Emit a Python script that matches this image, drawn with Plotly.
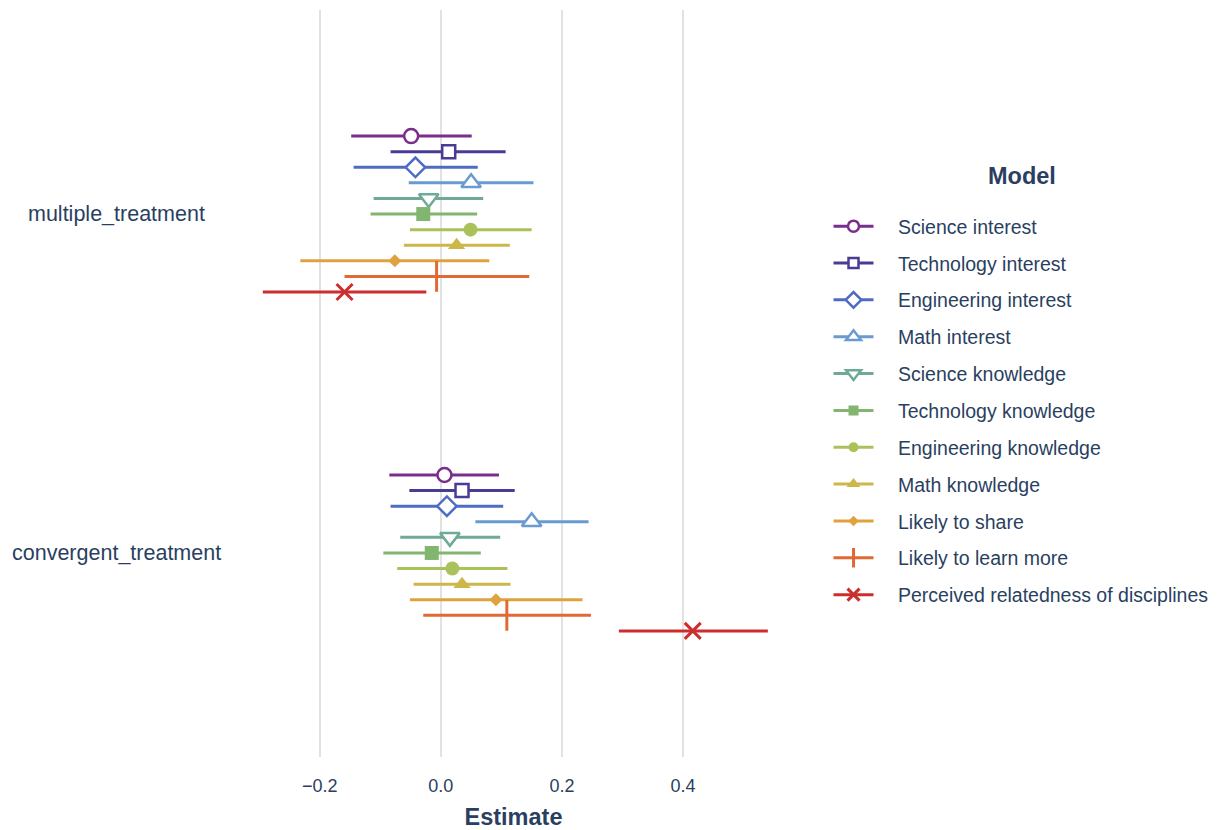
import plotly.graph_objects as go

# Coefficient estimates with 95% confidence intervals, one row per outcome model
models = [
    "Science interest", "Technology interest", "Engineering interest", "Math interest",
    "Science knowledge", "Technology knowledge", "Engineering knowledge", "Math knowledge",
    "Likely to share", "Likely to learn more", "Perceived relatedness of disciplines",
]
terms = ["convergent_treatment", "multiple_treatment"]

# multiple_treatment
mult_est = [-0.049, 0.013, -0.042, 0.050, -0.020, -0.029, 0.049, 0.026, -0.076, -0.007, -0.159]
mult_lo = [-0.148, -0.083, -0.144, -0.053, -0.111, -0.116, -0.051, -0.061, -0.232, -0.159, -0.294]
mult_hi = [0.051, 0.107, 0.061, 0.153, 0.070, 0.060, 0.150, 0.114, 0.080, 0.146, -0.024]

# convergent_treatment
conv_est = [0.006, 0.035, 0.010, 0.150, 0.015, -0.015, 0.019, 0.035, 0.091, 0.109, 0.416]
conv_lo = [-0.085, -0.052, -0.083, 0.057, -0.067, -0.095, -0.072, -0.045, -0.051, -0.029, 0.294]
conv_hi = [0.096, 0.122, 0.103, 0.244, 0.098, 0.066, 0.110, 0.115, 0.234, 0.248, 0.540]

x_ticks = [-0.2, 0.0, 0.2, 0.4]
x_ticklabels = ["\u22120.2", "0.0", "0.2", "0.4"]

colors = ["#7a2e8c", "#4a3b94", "#4f6cc4", "#6a9bd0", "#6faa98", "#82b56f",
          "#abc25a", "#cdb64a", "#e0a23e", "#e06a35", "#cc2e2e"]
symbols = ["circle", "square", "diamond", "triangle-up", "triangle-down", "square",
           "circle", "triangle-up", "diamond", "line-ns", "x-thin"]
hollow = [True, True, True, True, True, False, False, False, False, False, False]
sizes = [14, 13, 15, 17, 17, 14, 14, 15, 10, 22, 16]
legend_sizes = [11, 10, 12, 13, 13, 10, 10, 12, 8, 14, 12]

FONT = "Helvetica Neue, Helvetica, Arial, Liberation Sans, sans-serif"
TXT = "#2a3f5f"

n = len(models)
step = 0.046
offsets = [(n // 2 - i) * step for i in range(n)]
term_pos = {t: i for i, t in enumerate(terms)}


def marker_style(i, size):
    if symbols[i] in ("line-ns", "x-thin"):
        return dict(symbol=symbols[i], size=size, color=colors[i],
                    line=dict(color=colors[i], width=3))
    if hollow[i]:
        return dict(symbol=symbols[i], size=size, color="white",
                    line=dict(color=colors[i], width=2.5))
    return dict(symbol=symbols[i], size=size, color=colors[i], line=dict(width=0))


fig = go.Figure()
for i, name in enumerate(models):
    y_m = term_pos["multiple_treatment"] + offsets[i]
    y_c = term_pos["convergent_treatment"] + offsets[i]
    # confidence interval segments
    fig.add_trace(go.Scatter(
        x=[mult_lo[i], mult_hi[i], None, conv_lo[i], conv_hi[i]],
        y=[y_m, y_m, None, y_c, y_c],
        mode="lines", line=dict(color=colors[i], width=3),
        legendgroup=name, showlegend=False, hoverinfo="skip",
    ))
    # point estimates
    fig.add_trace(go.Scatter(
        x=[mult_est[i], conv_est[i]],
        y=[y_m, y_c],
        mode="markers", marker=marker_style(i, sizes[i]),
        name=name, legendgroup=name, showlegend=False,
    ))
    # legend key (line with a smaller marker)
    fig.add_trace(go.Scatter(
        x=[None], y=[None], mode="lines+markers",
        line=dict(color=colors[i], width=3),
        marker=marker_style(i, legend_sizes[i]),
        name="\u2002\u2002" + name, legendgroup=name, showlegend=True,
    ))

# zero reference line
fig.add_shape(type="line", xref="x", yref="paper", x0=0, x1=0, y0=0, y1=1,
              line=dict(color="#444444", width=1.3, dash="4px,3px"), layer="below")

# term labels centred in the left margin
for t in terms:
    fig.add_annotation(text=t, x=-0.229, xref="paper", y=term_pos[t], yref="y",
                       xanchor="center", yanchor="middle", showarrow=False,
                       font=dict(size=21.5, color=TXT, family=FONT))

# legend heading
fig.add_annotation(text="<b>Model</b>", x=1.4325, xref="paper", y=0.7778, yref="paper",
                   xanchor="center", yanchor="middle", showarrow=False,
                   font=dict(size=23.5, color=TXT, family=FONT))

fig.update_layout(
    width=1221, height=830,
    margin=dict(l=241, r=435, t=10, b=73, autoexpand=False),
    plot_bgcolor="white", paper_bgcolor="white",
    font=dict(family=FONT, color=TXT, size=18),
    xaxis=dict(range=[-0.33, 0.57], tickvals=x_ticks, ticktext=x_ticklabels,
               showgrid=True, gridcolor="#e2e2e2", gridwidth=1.5, zeroline=False,
               showline=False, ticks="outside", ticklen=12, automargin=False,
               tickcolor="rgba(0,0,0,0)", tickfont=dict(size=18),
               title=dict(text="<b>Estimate</b>", font=dict(size=23.5), standoff=13)),
    yaxis=dict(range=[-0.602, 1.602], showticklabels=False, showgrid=False,
               zeroline=False, showline=False, ticks="", automargin=False),
    legend=dict(x=1.078, xanchor="left", y=0.4639, yanchor="middle",
                traceorder="grouped", tracegroupgap=8.5, itemwidth=40,
                font=dict(size=19.5, color=TXT)),
    showlegend=True,
)

fig.write_html("out.html")
